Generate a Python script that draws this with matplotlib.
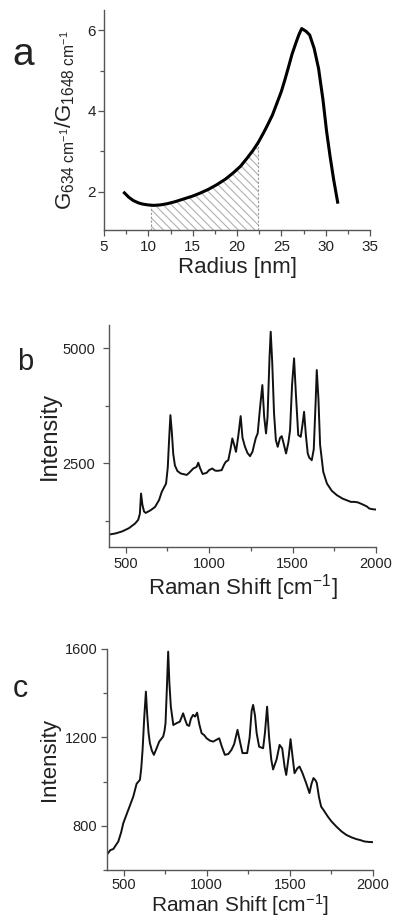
import numpy as np
import matplotlib
matplotlib.use("Agg")
import matplotlib.pyplot as plt
from matplotlib.ticker import MultipleLocator

plt.rcParams['font.family'] = ['Liberation Sans', 'DejaVu Sans']
plt.rcParams['mathtext.fontset'] = 'custom'
plt.rcParams['mathtext.rm'] = 'Liberation Sans'
plt.rcParams['mathtext.it'] = 'Liberation Sans'
plt.rcParams['mathtext.default'] = 'regular'
plt.rcParams['hatch.color'] = '#b0b0b0'
plt.rcParams['hatch.linewidth'] = 0.8

# ---------------- data ----------------
# Panel a: ratio G634/G1648 versus radius
radius = [7.3, 7.8, 8.3, 8.9, 9.4, 10.0, 10.3, 10.6, 11.3, 12.1, 13.0, 14.0, 15.0,
          15.8, 16.8, 17.7, 18.7, 19.6, 20.4, 21.1, 21.8, 22.4, 23.0, 23.4, 24.0,
          24.5, 25.0, 25.4, 25.8, 26.2, 26.7, 27.0, 27.3, 27.8, 28.2, 28.7, 29.2,
          29.7, 30.1, 30.5, 30.9, 31.35]
ratio = [1.97, 1.86, 1.78, 1.72, 1.69, 1.67, 1.665, 1.66, 1.67, 1.70, 1.75, 1.82, 1.89,
         1.96, 2.06, 2.17, 2.31, 2.47, 2.63, 2.82, 3.02, 3.22, 3.46, 3.63, 3.90,
         4.19, 4.48, 4.77, 5.08, 5.40, 5.72, 5.90, 6.04, 5.97, 5.88, 5.55, 5.05,
         4.27, 3.50, 2.87, 2.30, 1.74]
hatch_from, hatch_to = 10.3, 22.4

# Panel b: Raman spectrum
b_shift = [400, 440, 480, 520, 556, 575, 585, 592, 600, 610, 620, 650, 676, 700, 716,
           742, 752, 760, 768, 776, 785, 795, 810, 830, 866, 880, 905, 925, 935, 945,
           961, 985, 1000, 1019, 1035, 1049, 1075, 1090, 1100, 1115, 1128, 1139, 1150,
           1161, 1175, 1189, 1200, 1215, 1230, 1245, 1260, 1269, 1280, 1291, 1305, 1319,
           1330, 1341, 1350, 1362, 1369, 1378, 1389, 1400, 1411, 1425, 1435, 1445, 1461,
           1475, 1485, 1497, 1509, 1520, 1534, 1549, 1560, 1569, 1580, 1591, 1600, 1615,
           1627, 1638, 1645, 1655, 1665, 1684, 1706, 1735, 1766, 1800, 1850, 1870, 1890,
           1910, 1930, 1945, 1960, 1980, 2000]
b_int = [950, 975, 1020, 1090, 1189, 1270, 1400, 1841, 1600, 1450, 1420, 1480, 1550, 1700, 1876,
         2058, 2400, 3000, 3543, 3200, 2700, 2450, 2330, 2276, 2245, 2290, 2384, 2420, 2510, 2400,
         2265, 2290, 2350, 2384, 2340, 2333, 2348, 2470, 2530, 2565, 2800, 3037, 2900,
         2746, 3100, 3522, 3050, 2855, 2720, 2652, 2750, 2891, 3050, 3146, 3700, 4196,
         3500, 3146, 3500, 4800, 5354, 4700, 3580, 3000, 2855, 3050, 3087, 2950, 2711,
         2950, 3217, 4200, 4776, 4000, 3109, 3072, 3350, 3615, 3100, 2711, 2620, 2565,
         2800, 3800, 4522, 3900, 2900, 2311, 2058, 1900, 1804, 1730, 1659, 1660, 1650,
         1620, 1587, 1560, 1515, 1500, 1493]

# Panel c: Raman spectrum
c_shift = [400, 420, 438, 468, 485, 498, 528, 558, 578, 598, 606, 614, 624, 634, 642, 650,
           658, 670, 682, 698, 714, 738, 746, 752, 760, 768, 775, 784, 799, 820, 838, 858,
           870, 882, 894, 905, 918, 930, 942, 955, 969, 985, 999, 1020, 1039, 1060, 1075,
           1090, 1109, 1130, 1149, 1165, 1185, 1200, 1215, 1243, 1258, 1270, 1279, 1290,
           1300, 1315, 1339, 1350, 1363, 1375, 1388, 1399, 1420, 1438, 1454, 1468, 1478,
           1494, 1504, 1515, 1528, 1545, 1558, 1575, 1598, 1618, 1630, 1642, 1655, 1662,
           1675, 1688, 1708, 1728, 1750, 1779, 1810, 1839, 1870, 1899, 1925, 1949, 1975, 2000]
c_int = [670, 690, 695, 729, 770, 812, 872, 932, 990, 1008, 1060, 1143, 1290, 1407, 1300, 1220,
         1174, 1140, 1121, 1150, 1181, 1204, 1230, 1264, 1420, 1588, 1450, 1339, 1256, 1265, 1271, 1309,
         1280, 1256, 1252, 1285, 1302, 1294, 1312, 1260, 1219, 1210, 1196, 1185, 1181, 1190, 1196,
         1160, 1121, 1125, 1144, 1170, 1234, 1180, 1129, 1129, 1200, 1320, 1347, 1300,
         1220, 1158, 1151, 1220, 1339, 1200, 1100, 1055, 1100, 1166, 1150, 1068, 1030,
         1120, 1192, 1120, 1038, 1060, 1068, 1040, 993, 948, 990, 1016, 1005, 993,
         930, 887, 865, 842, 820, 797, 775, 759, 748, 740, 735, 729, 727, 726]

# ---------------- figure ----------------
W, H = 395, 919
fig = plt.figure(figsize=(W / 100, H / 100), dpi=100)

def px_axes(l, r, t, b):
    return fig.add_axes([l / W, 1 - b / H, (r - l) / W, (b - t) / H])

text_c = '#222222'
spine_c = '#555555'

def style(ax, lsize):
    for s in ('top', 'right'):
        ax.spines[s].set_visible(False)
    for s in ('left', 'bottom'):
        ax.spines[s].set_color(spine_c)
        ax.spines[s].set_linewidth(1.0)
    ax.tick_params(which='both', direction='out', color=spine_c, width=0.9,
                   labelsize=lsize, labelcolor=text_c)
    ax.tick_params(which='major', length=4)
    ax.tick_params(which='minor', length=3)

# Panel a
axa = px_axes(104, 370, 10, 230)
style(axa, 11)
ylo_a = 1.05
r = np.array(radius)
g = np.array(ratio)
axa.plot(r, g, color='black', lw=2.2, solid_joinstyle='round', zorder=3)
m = (r >= hatch_from) & (r <= hatch_to)
axa.fill_between(r[m], ylo_a, g[m], facecolor='none', edgecolor='#b0b0b0',
                 hatch='\\\\\\\\', linewidth=0, zorder=1)
i0 = radius.index(hatch_from)
i1 = radius.index(hatch_to)
axa.plot([hatch_from, hatch_from], [ylo_a, ratio[i0]], color='#999999', lw=0.8, ls=(0, (2, 1.5)))
axa.plot([hatch_to, hatch_to], [ylo_a, ratio[i1]], color='#999999', lw=0.8, ls=(0, (2, 1.5)))
axa.set_xlim(5, 35)
axa.set_ylim(ylo_a, 6.5)
axa.xaxis.set_major_locator(MultipleLocator(5))
axa.xaxis.set_minor_locator(MultipleLocator(2.5))
axa.yaxis.set_major_locator(MultipleLocator(2))
axa.yaxis.set_minor_locator(MultipleLocator(1))
axa.tick_params(axis='y', pad=2)
axa.set_xlabel('Radius [nm]', fontsize=16, color=text_c)
axa.xaxis.set_label_coords(0.5, -0.125)
axa.set_ylabel(r'G$_{634\ cm^{-1}}$/G$_{1648\ cm^{-1}}$', fontsize=16, color=text_c)
axa.yaxis.set_label_coords(-0.10, 0.5)
fig.text(23 / W, 1 - 55 / H, 'a', fontsize=28, ha='center', va='center', color=text_c)

# Panel b
axb = px_axes(109, 376, 325, 547)
style(axb, 10.5)
axb.plot(b_shift, b_int, color='#111111', lw=1.4)
axb.set_xlim(400, 2000)
axb.set_ylim(680, 5500)
axb.xaxis.set_major_locator(MultipleLocator(500))
axb.xaxis.set_minor_locator(MultipleLocator(250))
axb.yaxis.set_major_locator(MultipleLocator(2500))
axb.yaxis.set_minor_locator(MultipleLocator(1250))
axb.tick_params(axis='y', pad=6)
axb.set_xlabel(r'Raman Shift [cm$^{-1}$]', fontsize=16, color=text_c)
axb.xaxis.set_label_coords(0.5, -0.115)
axb.set_ylabel('Intensity', fontsize=17, color=text_c)
axb.yaxis.set_label_coords(-0.18, 0.5)
fig.text(25 / W, 1 - 362 / H, 'b', fontsize=21, ha='center', va='center', color=text_c)

# Panel c
axc = px_axes(107, 373, 649, 870)
style(axc, 10.5)
axc.plot(c_shift, c_int, color='#111111', lw=1.4)
axc.set_xlim(400, 2000)
axc.set_ylim(600, 1600)
axc.xaxis.set_major_locator(MultipleLocator(500))
axc.xaxis.set_minor_locator(MultipleLocator(250))
axc.yaxis.set_major_locator(MultipleLocator(400))
axc.yaxis.set_minor_locator(MultipleLocator(200))
axc.tick_params(axis='y', pad=3)
axc.tick_params(axis='x', pad=2)
axc.set_xlabel(r'Raman Shift [cm$^{-1}$]', fontsize=15, color=text_c)
axc.xaxis.set_label_coords(0.5, -0.098)
axc.set_ylabel('Intensity', fontsize=16, color=text_c)
axc.yaxis.set_label_coords(-0.175, 0.5)
fig.text(20 / W, 1 - 689 / H, 'c', fontsize=22, ha='center', va='center', color=text_c)

fig.savefig('out.png', dpi=100)
